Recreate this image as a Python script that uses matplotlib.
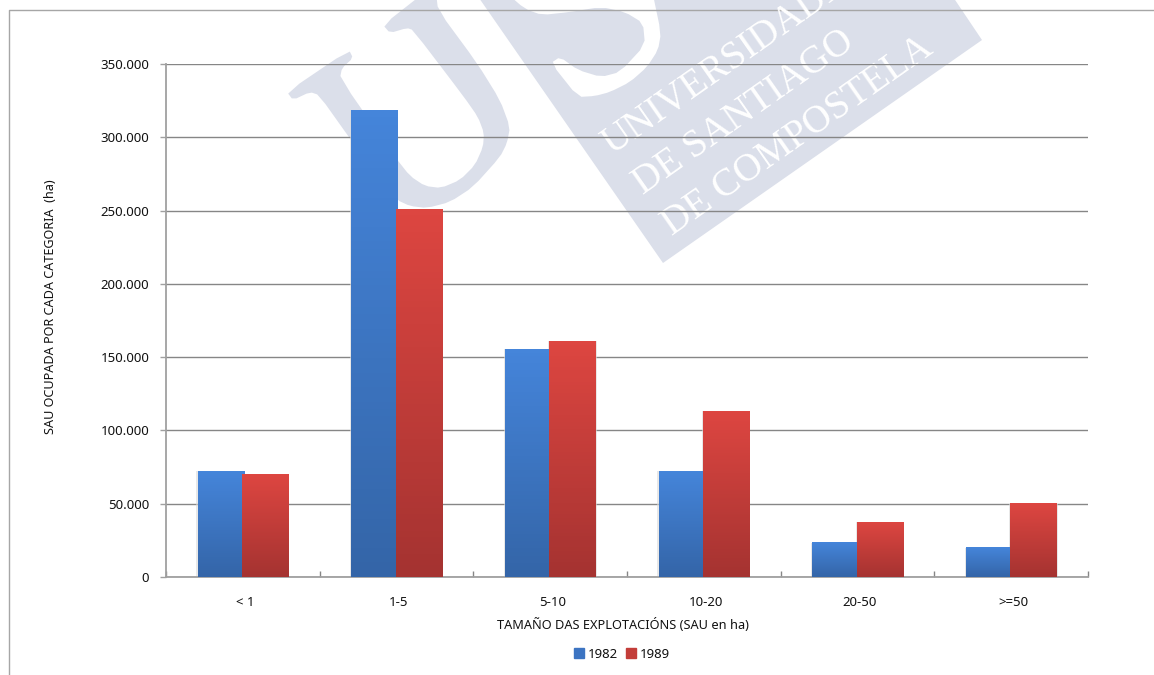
import matplotlib
matplotlib.use("Agg")
import matplotlib.pyplot as plt
import numpy as np
from matplotlib.colors import LinearSegmentedColormap
from matplotlib.patches import Polygon, Patch
from matplotlib.transforms import ScaledTranslation

categories = ["< 1", "1-5", "5-10", "10-20", "20-50", ">=50"]
values_1982 = [72000, 318500, 155500, 72000, 23500, 20000]
values_1989 = [70000, 251000, 160700, 113000, 37500, 50000]
series_names = ["1982", "1989"]
y_ticks = [0, 50000, 100000, 150000, 200000, 250000, 300000, 350000]
y_tick_labels = ["0", "50.000", "100.000", "150.000", "200.000", "250.000", "300.000", "350.000"]

W, H = 1154, 675
plt.rcParams["font.family"] = ["Noto Sans", "DejaVu Sans"]
fig = plt.figure(figsize=(W / 100, H / 100), dpi=100, facecolor="white")

# watermark and page frame, in pixels of the picture
bg = fig.add_axes([0, 0, 1, 1], zorder=0)
bg.set_xlim(0, W)
bg.set_ylim(H, 0)
bg.axis("off")
mark = "#dbdfea"


def rounded(points, color, rounds=2):
    # corner cutting, the logo outline is drawn by hand
    pts = np.array(points, dtype=float)
    for _ in range(rounds):
        nxt = np.roll(pts, -1, axis=0)
        pts = np.column_stack([0.8 * pts + 0.2 * nxt, 0.2 * pts + 0.8 * nxt]).reshape(-1, 2)
    bg.add_patch(Polygon(pts, fc=color, ec="none"))


bg.add_patch(Polygon([(470, -15), (945, -15), (982, 40), (663, 263)], fc=mark, ec="none"))
# U
rounded([(287, 92), (349, 50), (353, 58), (342, 68), (340, 78), (395, 157), (410, 176), (425, 186), (441, 188),
         (460, 180), (475, 165), (483, 147), (484, 133), (478, 117), (464, 97), (413, 30), (407, 28), (390, 33),
         (383, 25), (425, -8), (436, -8), (438, 10), (477, 63), (500, 100), (510, 127), (507, 143), (500, 157),
         (473, 187), (450, 202), (427, 208), (410, 206), (397, 200), (380, 180), (351, 140), (319, 95), (310, 92),
         (293, 100)], mark, rounds=1)
# S cut out of the block
rounded([(503, -10), (525, 9), (542, 15), (570, 12), (601, 7), (625, 12), (643, 23), (645, 45), (620, 72),
         (601, 77), (578, 70), (560, 57), (551, 63), (578, 97), (595, 96), (610, 92), (630, 82), (647, 67),
         (658, 50), (661, 33), (652, -10)], "white", rounds=1)

angle = 35
for txt, x, y in [("UNIVERSIDADE", 612, 155), ("DE SANTIAGO", 643, 195), ("DE COMPOSTELA", 672, 236)]:
    bg.text(x, y, txt, color="white", rotation=angle, rotation_mode="anchor", ha="left", va="baseline",
            family="Liberation Serif", fontsize=28)

bg.plot([9, 9, W], [H, 10, 10], color="#a6a6a6", lw=1)

# chart
x0, x1, y0, y1 = 166, 1088, 577, 64
ax = fig.add_axes([x0 / W, 1 - y0 / H, (x1 - x0) / W, (y0 - y1) / H], zorder=1)
ax.patch.set_alpha(0)

x = np.arange(len(categories))
width = 0.30
offset = 0.145
blue = LinearSegmentedColormap.from_list("blue", ["#3465a8", "#4585da"])
red = LinearSegmentedColormap.from_list("red", ["#a53331", "#dd4641"])
grad = np.linspace(1, 0, 64).reshape(-1, 1)

ax.set_axisbelow(True)
ax.yaxis.grid(True, color="#868686", lw=1)

for vals, dx, cmap, z in [(values_1982, -offset, blue, 3), (values_1989, offset, red, 4)]:
    bars = ax.bar(x + dx, vals, width, color="none", zorder=z)
    for b in bars:
        l, r = b.get_x(), b.get_x() + b.get_width()
        # soft shadow next to the bar
        ax.bar((l + r) / 2, b.get_height(), r - l + 0.014, color="#d9d9d9", alpha=0.6, zorder=2)
        ax.imshow(grad, extent=(l, r, 0, b.get_height()), cmap=cmap, aspect="auto", zorder=z, vmin=0, vmax=1)

ax.set_xlim(-0.5, len(categories) - 0.5)
ax.set_ylim(0, 350000)
ax.set_yticks(y_ticks)
ax.set_yticklabels(y_tick_labels, fontsize=9.5, color="#111111")
ax.set_xticks(x)
ax.set_xticklabels(categories, fontsize=9.5, color="#111111")
ax.set_xticks(np.arange(len(categories) + 1) - 0.5, minor=True)
ax.tick_params(axis="x", which="major", length=0, pad=13.5)
ax.tick_params(axis="x", which="minor", direction="in", length=4, width=1, color="#868686")
ax.tick_params(axis="y", length=4, width=1, color="#a0a0a0", pad=8)
shift = ScaledTranslation(2.5 / 72 * 0.72, 0, fig.dpi_scale_trans)
for lab in ax.get_xticklabels():
    lab.set_transform(lab.get_transform() + shift)
for s in ["top", "right"]:
    ax.spines[s].set_visible(False)
for s in ["left", "bottom"]:
    ax.spines[s].set_color("#a0a0a0")
    ax.spines[s].set_linewidth(1.3)

fig.text(623 / W, 1 - 625 / H, "TAMAÑO DAS EXPLOTACIÓNS (SAU en ha)", ha="center", va="center", fontsize=9.2,
         color="#111111")
fig.text(51 / W, 1 - 307 / H, "SAU OCUPADA POR CADA CATEGORIA  (ha)", ha="center", va="center", rotation=90,
         fontsize=9.1, color="#111111")

handles = [Patch(color="#3c74c2"), Patch(color="#c33d39")]
fig.legend(handles, series_names, ncol=2, loc="center", bbox_to_anchor=(622 / W, 1 - 654 / H), frameon=False,
           fontsize=9.5, handlelength=0.75, handleheight=0.75, handletextpad=0.3, columnspacing=0.65,
           labelcolor="#111111")

fig.savefig("out.png", dpi=100)
